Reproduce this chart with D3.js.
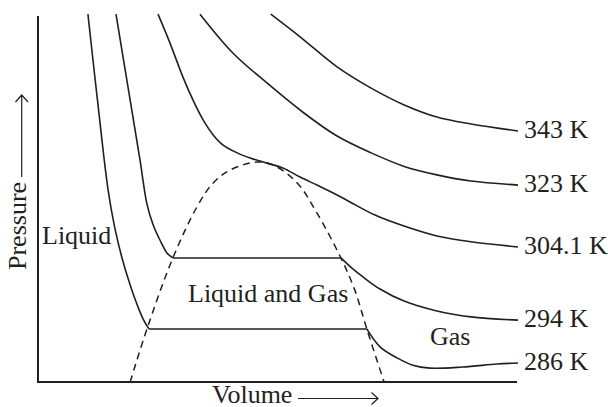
<!DOCTYPE html>
<html>
<head>
<meta charset="utf-8">
<script src="https://cdn.jsdelivr.net/npm/d3@7"></script>
<style>
  body { margin: 0; background: #fff; }
  text { font-family: "Liberation Serif", "Times New Roman", serif; fill: #231f20; }
</style>
</head>
<body>
<div class="svgContainer"></div>
<script>
// isotherm labels, top to bottom
const temps = ['343 K', '323 K', '304.1 K', '294 K', '286 K'];

// volume / pressure (0..100 arbitrary units)
const v343 = [48.5, 54.6, 62.3, 69.4, 76.3, 83.1, 90.2, 100];
const p343 = [100.5, 94.3, 86.1, 80.3, 75.7, 72.4, 70.5, 68.6];

const v323 = [33.75, 40.6, 47.7, 55.4, 62.3, 69.4, 76.3, 83.1, 90.2, 100];
const p323 = [100.5, 89.9, 81.7, 73.5, 67.2, 62.6, 58.9, 56.6, 54.9, 53.8];

const v304 = [25.0, 27.5, 30.2, 32.3, 34.4, 36.5, 38.5, 41.5, 44.2, 47.7, 51.0, 54.6, 58.1, 62.3, 65.0, 70.2, 76.25, 83.1, 90.2, 100];
const p304 = [100.5, 92.6, 83.3, 77.0, 71.6, 67.5, 64.8, 62.6, 61.2, 59.8, 58.5, 56.0, 53.8, 51.1, 49.2, 45.6, 42.6, 39.9, 38.3, 36.9];

// 294 K: liquid branch, plateau, gas branch
const v294Liq = [16.25, 19.2, 21.25, 22.7, 24.0, 25.4, 26.9, 28.1];
const p294Liq = [100.5, 77.0, 60.7, 48.6, 42.9, 38.8, 35.2, 33.9];
const v294Gas = [63.1, 65.4, 67.7, 71.25, 76.25, 83.1, 90.2, 100];
const p294Gas = [33.9, 31.1, 28.7, 25.4, 22.1, 19.4, 17.8, 16.9];

// 286 K
const v286Liq = [10.4, 12.5, 14.6, 16.0, 17.5, 19.2, 20.6, 21.9, 23.1];
const p286Liq = [100.5, 75.7, 52.5, 42.1, 33.9, 26.5, 21.3, 17.2, 14.5];
const v286Gas = [68.5, 71.25, 74.8, 78.1, 81.7, 88.5, 95.6, 100];
const p286Gas = [14.5, 9.6, 6.6, 4.6, 3.8, 4.1, 4.9, 5.2];

// saturation dome (dashed)
const vDome = [19.2, 22.7, 28.1, 33.1, 36.5, 40.0, 45.6, 49.0, 54.0, 58.1, 63.1, 66.0, 68.5, 72.1];
const pDome = [0, 14.5, 33.9, 47.8, 54.4, 57.9, 60.1, 59.3, 54.4, 46.2, 33.9, 25.1, 14.5, 0];

const width = 608;
const height = 407;
const ink = '#231f20';

const svg = d3.select('.svgContainer').append('svg')
  .attr('width', width)
  .attr('height', height);

const scaleX = d3.scaleLinear().domain([0, 100]).range([38, 518]);
const scaleY = d3.scaleLinear().domain([0, 100]).range([382, 16]);

const zip = (vs, ps) => vs.map((v, i) => [v, ps[i]]);

const line = d3.line()
  .x(d => scaleX(d[0]))
  .y(d => scaleY(d[1]))
  .curve(d3.curveCatmullRom.alpha(0.5));

const straight = d3.line()
  .x(d => scaleX(d[0]))
  .y(d => scaleY(d[1]));

// axes (just two lines, no ticks)
svg.append('path')
  .attr('d', straight([[0, 100], [0, 0], [99.8, 0]]))
  .attr('fill', 'none')
  .attr('stroke', ink)
  .attr('stroke-width', 2);

// isotherms
const isotherms = [
  [zip(v343, p343)],
  [zip(v323, p323)],
  [zip(v304, p304)],
  [zip(v294Liq, p294Liq), zip(v294Gas, p294Gas)],
  [zip(v286Liq, p286Liq), zip(v286Gas, p286Gas)]
];

const g = svg.append('g');

isotherms.forEach((parts, i) => {
  parts.forEach(pts => {
    g.append('path')
      .attr('d', line(pts))
      .attr('fill', 'none')
      .attr('stroke', ink)
      .attr('stroke-width', 1.6);
  });
  if (parts.length > 1) {
    // flat plateau between the two branches
    const a = parts[0][parts[0].length - 1];
    const b = parts[1][0];
    g.append('path')
      .attr('d', straight([a, b]))
      .attr('stroke', ink)
      .attr('stroke-width', 1.6);
  }
  const last = parts[parts.length - 1];
  const end = last[last.length - 1];
  g.append('text')
    .attr('x', scaleX(end[0]) + 6)
    .attr('y', scaleY(end[1]) + 7)
    .attr('font-size', 26)
    .text(temps[i]);
});

// dome
svg.append('path')
  .attr('d', line(zip(vDome, pDome)))
  .attr('fill', 'none')
  .attr('stroke', ink)
  .attr('stroke-width', 1.5)
  .attr('stroke-dasharray', '7,5');

// region labels
svg.append('text').attr('x', 42).attr('y', 244).attr('font-size', 26).text('Liquid');
svg.append('text').attr('x', 188).attr('y', 302).attr('font-size', 26).text('Liquid and Gas');
svg.append('text').attr('x', 430).attr('y', 345).attr('font-size', 26).text('Gas');

// axis titles with arrows
svg.append('text')
  .attr('transform', 'translate(26,270) rotate(-90)')
  .attr('font-size', 26)
  .text('Pressure');

svg.append('path')
  .attr('d', 'M21.7,177V95M15.5,102L21.7,95L28,102')
  .attr('fill', 'none')
  .attr('stroke', ink)
  .attr('stroke-width', 1.2);

svg.append('text')
  .attr('x', 212)
  .attr('y', 403)
  .attr('font-size', 26)
  .text('Volume');

svg.append('path')
  .attr('d', 'M298,398.5H378M371.5,392.5L378,398.5L371.5,404.5')
  .attr('fill', 'none')
  .attr('stroke', ink)
  .attr('stroke-width', 1.2);
</script>
</body>
</html>
